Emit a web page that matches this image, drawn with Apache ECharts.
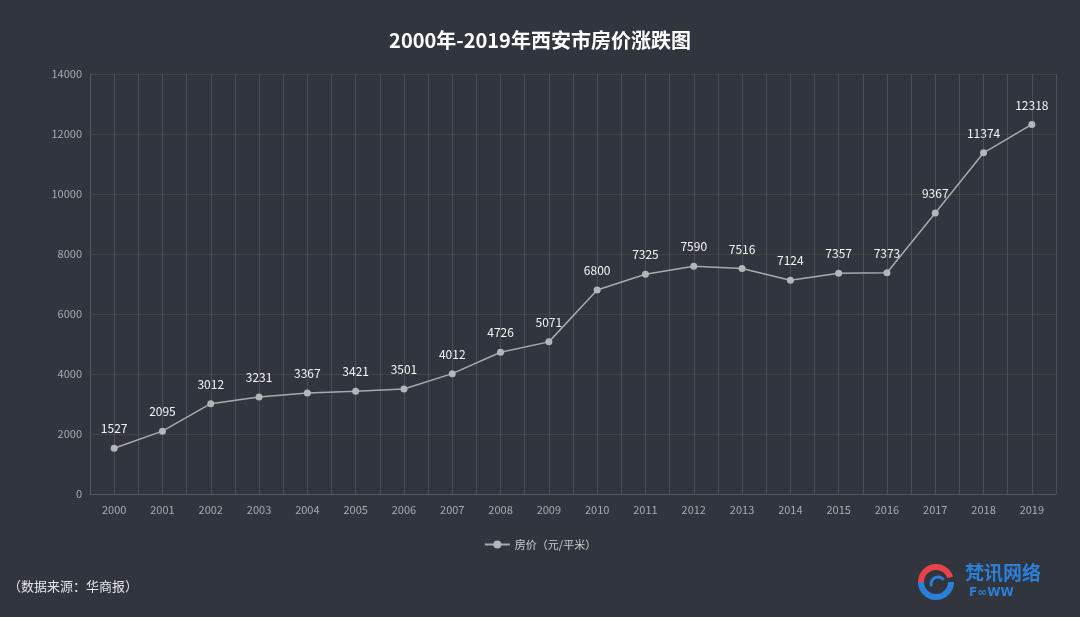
<!DOCTYPE html>
<html>
<head>
<meta charset="utf-8">
<script src="https://cdn.jsdelivr.net/npm/echarts@6/dist/echarts.min.js"></script>
<style>
html,body{margin:0;padding:0;background:#31353d;}
#c{width:1080px;height:617px;}
</style>
</head>
<body>
<div id="c"></div>
<script>
const years = ['2000','2001','2002','2003','2004','2005','2006','2007','2008','2009','2010','2011','2012','2013','2014','2015','2016','2017','2018','2019'];
const prices = [1527,2095,3012,3231,3367,3421,3501,4012,4726,5071,6800,7325,7590,7516,7124,7357,7373,9367,11374,12318];
const seriesName = '房价（元/平米）';
const titleText = '2000年-2019年西安市房价涨跌图';
const sourceText = '（数据来源：华商报）';

const font = '"Noto Sans CJK SC", "Open Sans", sans-serif';
const chart = echarts.init(document.getElementById('c'), null, {renderer:'canvas'});
chart.setOption({
  backgroundColor: '#31353d',
  animation: false,
  title: {
    text: titleText, left: 'center', top: 25,
    textStyle: {color:'#ffffff', fontSize: 20, fontWeight: 'bold', fontFamily: font}
  },
  legend: {
    data: [seriesName], left: 'center', top: 534,
    itemWidth: 25, itemHeight: 10,
    textStyle: {color:'#cccccc', fontSize: 11, fontFamily: font}
  },
  grid: {left: 90, right: 24, top: 74, bottom: 123},
  xAxis: [{
    type: 'category', data: years, boundaryGap: true,
    axisLine: {lineStyle: {color:'#555a62'}},
    axisTick: {show: false},
    axisLabel: {color:'#a8abb0', fontSize: 11, margin: 10, fontFamily: font},
    splitLine: {show: false}
  }, {
    type: 'value', min: 0, max: 40, interval: 1, show: true, position: 'bottom',
    axisLine: {show:false}, axisTick: {show:false}, axisLabel: {show:false},
    splitLine: {show: true, lineStyle: {color:'#4a4e56', width: 1}}
  }],
  yAxis: {
    type: 'value', min: 0, max: 14000, interval: 2000,
    axisLine: {show: true, lineStyle: {color:'#555a62'}},
    axisTick: {show: false},
    axisLabel: {color:'#a8abb0', fontSize: 11, margin: 8, fontFamily: font, formatter: function(v){return String(v);}},
    splitLine: {show: true, lineStyle: {color:'#44433f', width: 1}}
  },
  series: [{
    name: seriesName, type: 'line', data: prices, xAxisIndex: 0,
    symbol: 'circle', symbolSize: 7,
    itemStyle: {color:'#b4b5b8'},
    lineStyle: {color:'#a9aaad', width: 1.5},
    label: {show: true, position: 'top', distance: 10, color:'#f5f5f5', fontSize: 12, fontFamily: font}
  }],
  graphic: [
    {type:'text', left: 8, top: 580, style:{text: sourceText, fill:'#e6e6e6', font:'13px "Noto Sans CJK SC"'}},
    {type:'group', left: 918, top: 563, children:[
      {type:'arc', shape:{cx:17, cy:21, r:15, startAngle: Math.PI*1.0, endAngle: Math.PI*1.9}, style:{stroke:'#e8434b', lineWidth:6, fill:null}},
      {type:'arc', shape:{cx:17, cy:21, r:15, startAngle: Math.PI*0.0, endAngle: Math.PI*1.0}, style:{stroke:'#2b7fd8', lineWidth:6, fill:null}},
      {type:'arc', shape:{cx:19, cy:23, r:7, startAngle: Math.PI*0.9, endAngle: Math.PI*1.8}, style:{stroke:'#2b7fd8', lineWidth:3, fill:null}},
      {type:'text', x: 46, y: 2, style:{text:'梵讯网络', fill:'#2b7fd8', font:'bold 19px "Noto Sans CJK SC"'}},
      {type:'text', x: 50, y: 26, style:{text:'F∞WW', fill:'#2b7fd8', font:'bold 12px "DejaVu Sans"'}}
    ]}
  ]
});
</script>
</body>
</html>
